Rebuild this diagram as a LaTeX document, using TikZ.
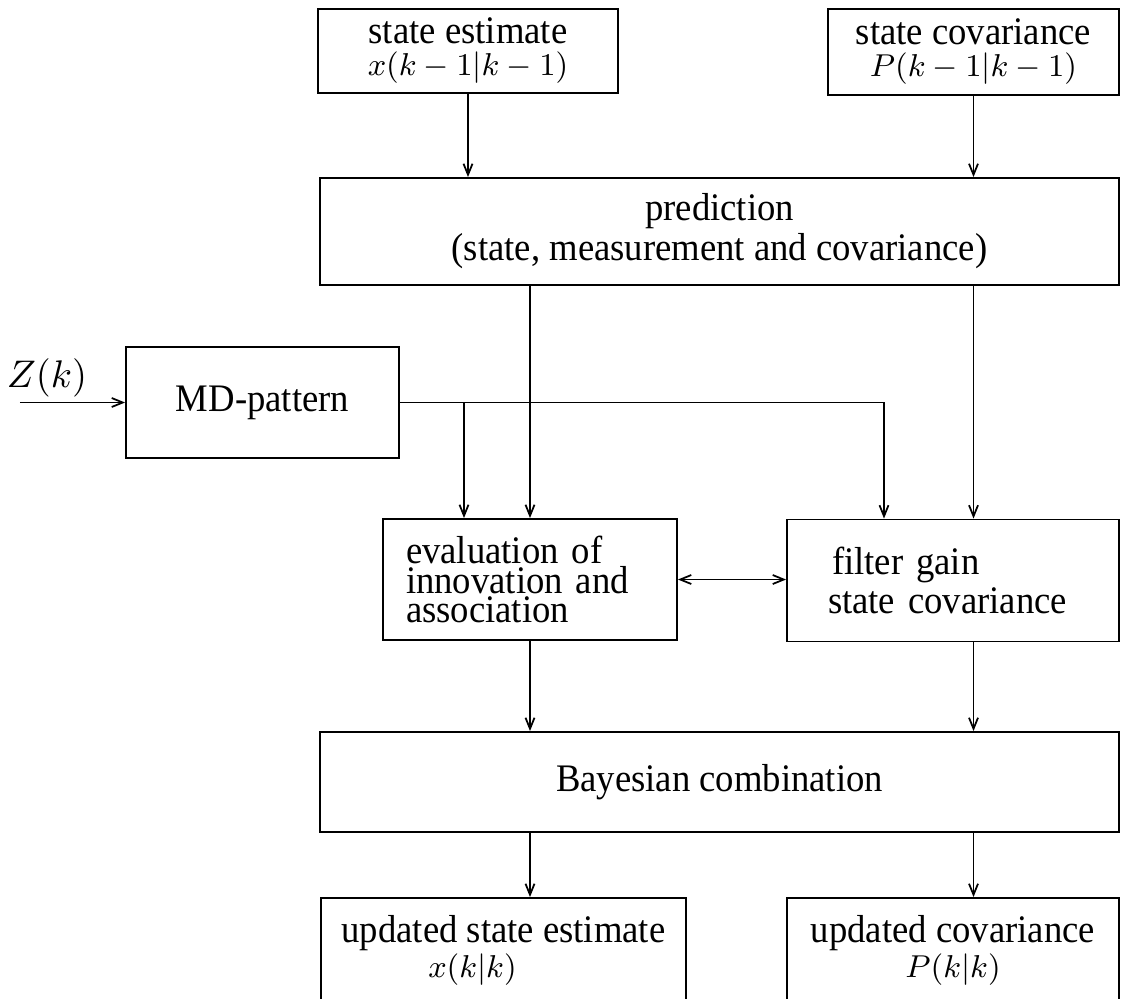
\documentclass[tikz,border=0pt]{standalone}
\usepackage[no-math]{fontspec}
\setmainfont{Liberation Serif}[FakeStretch=0.94]
\usetikzlibrary{arrows.meta, positioning}

\newcommand{\smallmath}[1]{{\fontsize{9}{10}\selectfont$#1$}}

\begin{document}
\begin{tikzpicture}[
    every node/.style={font=\fontsize{11.1}{11.4}\selectfont},
    block/.style={rectangle, draw, line width=0.55pt, inner sep=0pt, align=center},
    arrow/.style={-{Straight Barb[length=1.1mm, width=0.9mm]}, line width=0.5pt},
    biarrow/.style={{Straight Barb[length=1.1mm, width=0.9mm]}-{Straight Barb[length=1.1mm, width=0.9mm]}, line width=0.5pt}
]
\useasboundingbox (0,0) rectangle (11.23,-9.98);

% Nodes
\node (se) [block, minimum width=3cm, minimum height=0.84cm, font=\fontsize{11.1}{9.1}\selectfont] at (4.68,-0.51) {state estimate\\ \smallmath{x(k-1|k-1)}};
\node (sc) [block, minimum width=2.91cm, minimum height=0.86cm, font=\fontsize{11.1}{9.1}\selectfont] at (9.735,-0.52) {state covariance\\ \smallmath{P(k-1|k-1)}};
\node (pred) [block, minimum width=7.99cm, minimum height=1.07cm] at (7.195,-2.315) {prediction\\ (state, measurement and covariance)};
\node (md) [block, minimum width=2.73cm, minimum height=1.11cm] at (2.625,-4.025) {MD-pattern};
\node (eval) [block, minimum width=2.94cm, minimum height=1.21cm, text width=2.48cm, align=left, font=\fontsize{11.1}{8.4}\selectfont] at (5.30,-5.795) {evaluation of\\ innovation and\\ association};
\node (gain) [block, minimum width=3.32cm, minimum height=1.22cm, text width=2.50cm, align=left, font=\fontsize{11.1}{11.1}\selectfont] at (9.53,-5.805) {\hspace*{0.04cm}filter gain\\ state covariance};
\node (bayes) [block, minimum width=7.99cm, minimum height=1cm] at (7.195,-7.82) {Bayesian combination};
\node (use) [block, minimum width=3.65cm, minimum height=1.04cm, font=\fontsize{11.1}{10}\selectfont] at (5.035,-9.50) {updated state estimate\\ \hspace*{-0.62cm}\smallmath{x(k|k)}};
\node (uc) [block, minimum width=3.32cm, minimum height=1.04cm, font=\fontsize{11.1}{10}\selectfont] at (9.53,-9.50) {updated covariance\\ \smallmath{P(k|k)}};

% Input
\node (zlab) at (0.47,-3.775) {$Z(k)$};
\coordinate (zin) at (0.2,-4.025);
\coordinate (mdsplit) at (4.64,-4.025);
\coordinate (mdturn) at (8.84,-4.025);

% Arrows
\draw [arrow] (se.south) -- (se.south |- pred.north);
\draw [arrow] (sc.south) -- (sc.south |- pred.north);
\draw [arrow] (pred.south -| eval) -- (eval.north);
\draw [arrow] (pred.south -| sc) -- (gain.north -| sc);

\draw [arrow] (zin) -- (md.west);
\draw [arrow] (md.east) -- (mdturn) -- (mdturn |- gain.north);
\draw [arrow] (mdsplit) -- (mdsplit |- eval.north);
\draw [biarrow] (eval.east) -- (eval.east -| gain.west);

\draw [arrow] (eval.south) -- (eval.south |- bayes.north);
\draw [arrow] (gain.south -| sc) -- (bayes.north -| sc);
\draw [arrow] (bayes.south -| eval) -- (use.north -| eval);
\draw [arrow] (bayes.south -| sc) -- (uc.north -| sc);

\end{tikzpicture}
\end{document}
